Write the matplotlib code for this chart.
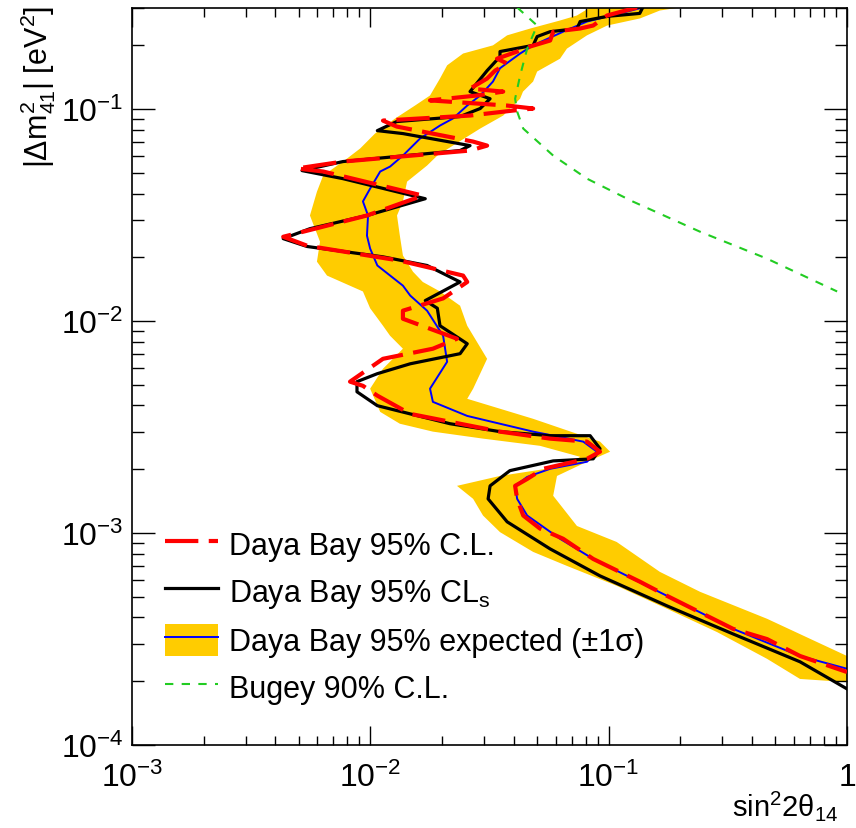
import matplotlib
matplotlib.use('Agg')
import matplotlib.pyplot as plt
from matplotlib.ticker import LogLocator, NullFormatter
from matplotlib.patches import Patch
from matplotlib.lines import Line2D

plt.rcParams['font.family'] = ['Liberation Sans', 'DejaVu Sans']
plt.rcParams['mathtext.fontset'] = 'custom'
plt.rcParams['mathtext.rm'] = 'Liberation Sans'
plt.rcParams['mathtext.it'] = 'Liberation Sans'
plt.rcParams['mathtext.bf'] = 'Liberation Sans:bold'

# Daya Bay 95% CLs (black)
cls_x = [0.139, 0.135, 0.0985, 0.0759, 0.0737, 0.0568, 0.0501, 0.0482, 0.0350, 0.0350,
         0.0309, 0.0262, 0.0318, 0.0289, 0.0238, 0.0129, 0.0107, 0.0137, 0.0262, 0.0238,
         0.00768, 0.00517, 0.00768, 0.0170, 0.00968, 0.00558, 0.00431, 0.00542, 0.0113, 0.0173,
         0.0238, 0.0170, 0.0191, 0.0196, 0.0255, 0.0238, 0.0147, 0.0107, 0.00879, 0.00879,
         0.0107, 0.0147, 0.0216, 0.0350, 0.0568, 0.0836, 0.0920, 0.0861, 0.0585, 0.0385,
         0.0318, 0.0312, 0.0375, 0.0568, 0.0920, 0.176, 0.333, 0.635, 1.0]
cls_y = [0.302, 0.283, 0.274, 0.259, 0.240, 0.232, 0.220, 0.200, 0.187, 0.177,
         0.152, 0.121, 0.112, 0.1007, 0.0923, 0.0874, 0.0792, 0.0767, 0.0673, 0.0638,
         0.0566, 0.0513, 0.0470, 0.0378, 0.0315, 0.0273, 0.0245, 0.0225, 0.0201, 0.0183,
         0.0153, 0.0125, 0.0115, 0.00951, 0.00782, 0.00702, 0.00629, 0.00565, 0.00518, 0.00464,
         0.00399, 0.00365, 0.00328, 0.00301, 0.00288, 0.00288, 0.00250, 0.00224, 0.00219, 0.00197,
         0.00167, 0.00145, 0.00113, 0.000842, 0.000628, 0.000453, 0.000334, 0.000247, 0.000184]

# Daya Bay 95% C.L. (red dashed)
cl_x = [0.1316, 0.0985, 0.0861, 0.0759, 0.0585, 0.0568, 0.0468, 0.0413, 0.0340, 0.0375,
        0.0334, 0.0309, 0.0262, 0.0361, 0.0280, 0.0178, 0.0375, 0.0482, 0.0397, 0.0262,
        0.0113, 0.0129, 0.0270, 0.0309, 0.0262, 0.00768, 0.00492, 0.00634, 0.0166, 0.00968,
        0.00431, 0.00542, 0.0133, 0.0245, 0.0255, 0.0202, 0.0137, 0.0137, 0.0231, 0.0183,
        0.0113, 0.00822, 0.00931, 0.0107, 0.0147, 0.0350, 0.0568, 0.0811, 0.0920, 0.0811,
        0.0531, 0.0455, 0.0405, 0.0413, 0.0438, 0.0515, 0.0644, 0.0861, 0.1354, 0.176,
        0.333, 0.462, 0.635, 1.0]
cl_y = [0.302, 0.2767, 0.2481, 0.2402, 0.232, 0.2108, 0.1975, 0.187, 0.173, 0.1642,
        0.1521, 0.1395, 0.125, 0.121, 0.116, 0.110, 0.104, 0.1007, 0.0985, 0.0933,
        0.0883, 0.0828, 0.0703, 0.0673, 0.0638, 0.0566, 0.0525, 0.0508, 0.0391, 0.0315,
        0.0250, 0.0227, 0.01929, 0.0164, 0.0153, 0.0128, 0.0112, 0.01026, 0.00826, 0.00741,
        0.00664, 0.00518, 0.00495, 0.00445, 0.00365, 0.00301, 0.00279, 0.00270, 0.00242, 0.00224,
        0.00201, 0.00180, 0.00167, 0.00145, 0.00121, 0.00105, 0.000940, 0.000755, 0.000589, 0.000505,
        0.000353, 0.000316, 0.000263, 0.000221]

# Daya Bay 95% expected, median (blue)
exp_x = [0.1394, 0.1116, 0.0811, 0.0644, 0.0482, 0.0425, 0.0350, 0.0327, 0.0289, 0.0255,
         0.0222, 0.0196, 0.01617, 0.0137, 0.0121, 0.0110, 0.00998, 0.00931, 0.00978, 0.00968,
         0.00998, 0.0107, 0.0137, 0.0147, 0.0173, 0.0202, 0.0210, 0.0178, 0.0183, 0.0255,
         0.0482, 0.0782, 0.0893, 0.0811, 0.0568, 0.0455, 0.0405, 0.0413, 0.0455, 0.0625,
         0.0861, 0.176, 0.333, 0.635, 1.0]
exp_y = [0.302, 0.283, 0.259, 0.232, 0.200, 0.183, 0.156, 0.135, 0.116, 0.104,
         0.0903, 0.0837, 0.0727, 0.0604, 0.0536, 0.0508, 0.0422, 0.0367, 0.0315, 0.0253,
         0.0220, 0.0183, 0.0147, 0.0132, 0.0112, 0.00853, 0.00643, 0.00480, 0.00416, 0.00357,
         0.00301, 0.00270, 0.00242, 0.00217, 0.00201, 0.00184, 0.00167, 0.00145, 0.00121, 0.000940,
         0.000755, 0.000505, 0.000353, 0.000263, 0.000229]

# +-1 sigma band: outer edge (top -> bottom) and inner edge (bottom -> top)
band_r_x = [0.1995, 0.164, 0.1354, 0.0985, 0.0811, 0.0668, 0.0625, 0.0501, 0.0482, 0.0437,
            0.0425, 0.0361, 0.0289, 0.0222, 0.0191, 0.0173, 0.01426, 0.0137, 0.01294, 0.0133,
            0.0137, 0.0151, 0.0166, 0.0196, 0.0238, 0.0255, 0.0309, 0.0270, 0.0255, 0.0350,
            0.0482, 0.0920, 0.1014, 0.0811, 0.0607, 0.0585, 0.0736, 0.108, 0.164, 0.242,
            0.462, 1.0]
band_r_y = [0.302, 0.292, 0.268, 0.248, 0.223, 0.193, 0.173, 0.1505, 0.135, 0.121,
            0.112, 0.0933, 0.0810, 0.0673, 0.0604, 0.0542, 0.0455, 0.0367, 0.0315, 0.0253,
            0.0204, 0.0171, 0.0153, 0.0138, 0.01182, 0.00951, 0.00664, 0.00480, 0.00430, 0.00386,
            0.00346, 0.00270, 0.00242, 0.00217, 0.00186, 0.00150, 0.00108, 0.000908, 0.000656, 0.000528,
            0.000394, 0.000263]
band_l_x = [1.0, 0.635, 0.462, 0.285, 0.176, 0.108, 0.0668, 0.0482, 0.0350, 0.0297,
            0.0270, 0.0231, 0.0350, 0.0668, 0.0759, 0.0515, 0.0297, 0.0183, 0.0133, 0.0110,
            0.00998, 0.0113, 0.0137, 0.0121, 0.0113, 0.00998, 0.00931, 0.00658, 0.00597, 0.00615,
            0.00558, 0.00597, 0.00634, 0.00799, 0.00906, 0.01046, 0.0127, 0.0154, 0.0178, 0.0196,
            0.0210, 0.0245, 0.0327, 0.0375, 0.0468, 0.0625, 0.0736, 0.0836]
band_l_y = [0.000198, 0.000205, 0.000255, 0.000341, 0.000439, 0.000564, 0.000700, 0.000815, 0.00101, 0.00121,
            0.00145, 0.00167, 0.00186, 0.00208, 0.00229, 0.00258, 0.00279, 0.00301, 0.00328, 0.00373,
            0.00480, 0.00596, 0.00741, 0.00853, 0.00951, 0.0115, 0.0138, 0.0164, 0.01908, 0.0237,
            0.0315, 0.0408, 0.0486, 0.0585, 0.0652, 0.0767, 0.0903, 0.104, 0.116, 0.1395,
            0.161, 0.183, 0.200, 0.223, 0.240, 0.262, 0.2767, 0.302]

# Bugey 90% C.L. (green dashed)
bugey_x = [0.0413, 0.0501, 0.0455, 0.0425, 0.0405, 0.0413, 0.0438, 0.0585, 0.0811, 0.126,
           0.242, 0.462, 0.909]
bugey_y = [0.302, 0.248, 0.193, 0.144, 0.112, 0.0975, 0.0810, 0.0604, 0.0470, 0.0367,
           0.0264, 0.0197, 0.0138]

x_ticks = [1e-3, 1e-2, 1e-1, 1.0]
x_tick_labels = ['$10^{-3}$', '$10^{-2}$', '$10^{-1}$', '1']
y_ticks = [1e-4, 1e-3, 1e-2, 1e-1]
y_tick_labels = ['$10^{-4}$', '$10^{-3}$', '$10^{-2}$', '$10^{-1}$']

labels = ['Daya Bay 95% C.L.', 'Daya Bay 95% CL$_{s}$',
          'Daya Bay 95% expected (\u00b11\u03c3)', 'Bugey 90% C.L.']

band_col = '#ffcc00'
red_dash = (0, (8, 2.5))
green_dash = (0, (4, 4))

fig = plt.figure(figsize=(8.56, 8.29), dpi=100)
ax = fig.add_axes([0.1542, 0.1001, 0.8353, 0.8890])

ax.fill(band_r_x + band_l_x, band_r_y + band_l_y, color=band_col, lw=0, zorder=1)
ax.plot(exp_x, exp_y, color='#0000ff', lw=1.4, zorder=2)
ax.plot(cls_x, cls_y, color='black', lw=2.3, zorder=3)
ax.plot(cl_x, cl_y, color='#ff0000', lw=3.0, ls=red_dash, zorder=4)
ax.plot(bugey_x, bugey_y, color='#22cc22', lw=1.5, ls=green_dash, zorder=5)

ax.set_xscale('log')
ax.set_yscale('log')
ax.set_xlim(1e-3, 1.0)
ax.set_ylim(1e-4, 0.3)

ax.set_xticks(x_ticks, labels=x_tick_labels)
ax.set_yticks(y_ticks, labels=y_tick_labels)
for axis in (ax.xaxis, ax.yaxis):
    axis.set_minor_locator(LogLocator(base=10, subs=range(2, 10), numticks=20))
    axis.set_minor_formatter(NullFormatter())

ax.tick_params(which='both', direction='in', top=True, right=True, width=1.0,
               labelsize=23)
ax.tick_params(axis='x', which='major', length=13.7, pad=12)
ax.tick_params(axis='x', which='minor', length=6.5)
ax.tick_params(axis='y', which='major', length=16.5, pad=6)
ax.tick_params(axis='y', which='minor', length=8.5)
for s in ax.spines.values():
    s.set_linewidth(1.2)

ax.set_xlabel('sin$^{2}$2\u03b8$_{14}$', fontsize=21, loc='right')
ax.xaxis.set_label_coords(0.988, -0.059)
ax.set_ylabel('|\u0394m$^{2}_{41}$| [eV$^{2}$]', fontsize=22, loc='top')
ax.yaxis.set_label_coords(-0.103, 1.005)

handles = [
    Line2D([], [], color='#ff0000', lw=3.0, ls=red_dash),
    Line2D([], [], color='black', lw=2.3),
    (Patch(facecolor=band_col, edgecolor='none'), Line2D([], [], color='#0000ff', lw=1.4)),
    Line2D([], [], color='#22cc22', lw=1.5, ls=green_dash),
]
ax.legend(handles, labels, loc='upper left', bbox_to_anchor=(0.046, 0.294),
          frameon=False, fontsize=22, handlelength=1.75, handleheight=1.2,
          handletextpad=0.35, labelspacing=0.46, borderpad=0, borderaxespad=0)

fig.savefig('out.png', dpi=100)
